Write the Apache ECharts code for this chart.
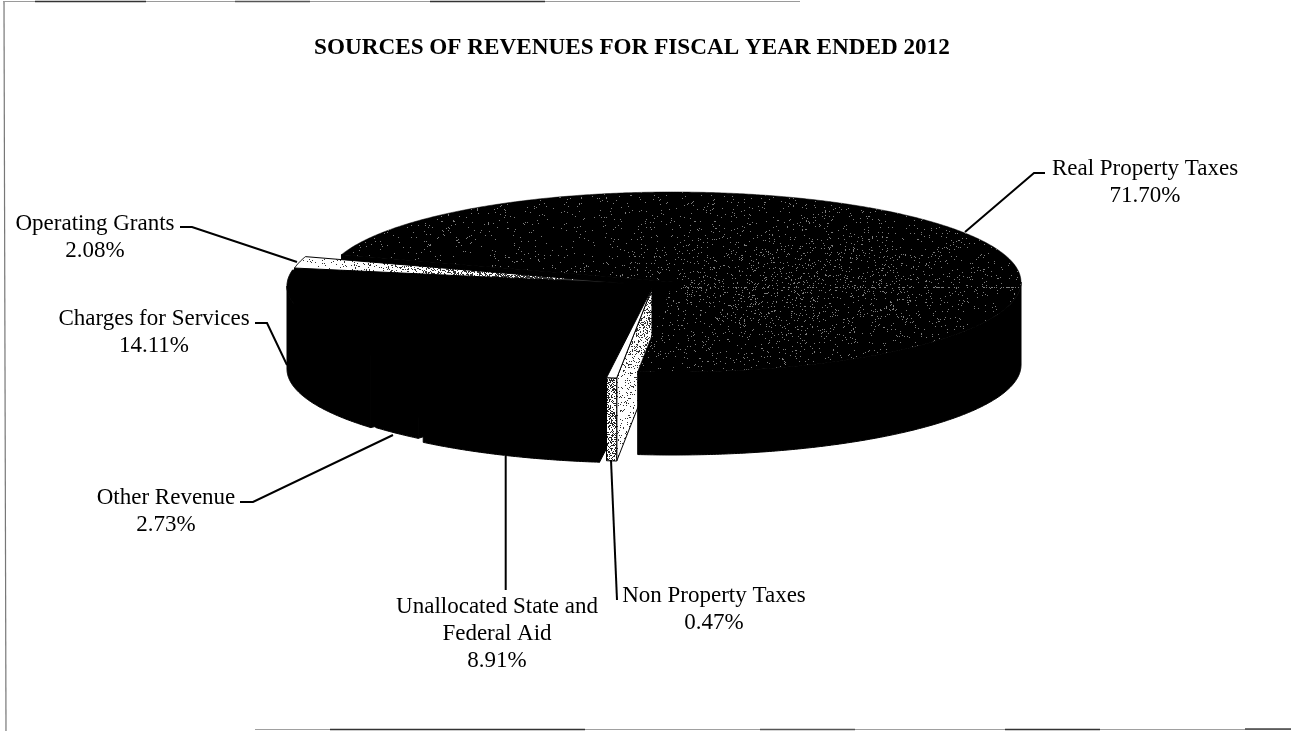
<!DOCTYPE html>
<html>
<head>
<meta charset="utf-8">
<title>Sources of Revenues</title>
<script src="https://cdn.jsdelivr.net/npm/echarts@6/dist/echarts.min.js"></script>
<style>
html,body{margin:0;padding:0;background:#fff}
#chart{width:1291px;height:731px}
</style>
</head>
<body>
<div id="chart"></div>
<script>
// Revenue shares, percent of total, clockwise from the start of Real Property Taxes
const categories = [
  'Real Property Taxes',
  'Non Property Taxes',
  'Unallocated State and\nFederal Aid',
  'Other Revenue',
  'Charges for Services',
  'Operating Grants'
];
const shares = [71.70, 0.47, 8.91, 2.73, 14.11, 2.08];
const chartTitle = 'SOURCES OF REVENUES FOR FISCAL YEAR ENDED 2012';

// Pie projection, in axis units (the hidden axes run 1:1 with the page)
const RX = 348, RY = 90, DEPTH = 83, FIRST_ANGLE = 287.7;
// Apex of each exploded slice
const apexes = [[673, 282], [652, 288.5], [645, 290], [640, 286], [635, 286], [637, 284]];
// Paint layers: radial wall and remaining faces of each slice
const wallLayer = [1, 4, 3, 3, 3, 2];
const faceLayer = [5, 4, 3, 3, 3, 2];
// Leader lines and label anchors
const leaders = [
  [[965, 232], [1034, 173], [1045, 173]],
  [[611, 460], [617, 600]],
  [[505.7, 456], [505.7, 590]],
  [[393, 435], [253, 502], [240, 502]],
  [[287, 365], [267, 323], [255, 323]],
  [[297, 262], [192, 227], [180, 227]]
];
const labelAnchors = [[1145, 155], [714, 582], [497, 593], [166, 484], [154, 305], [95, 210]];

const FONT = '"Liberation Serif", "Times New Roman", serif';

// Speckled fill: a page-sized canvas where inkAt(x, y) gives the chance of a pixel being marked
function speckle(base, mark, inkAt) {
  const c = document.createElement('canvas');
  c.width = 1291; c.height = 731;
  const ctx = c.getContext('2d');
  ctx.fillStyle = base;
  ctx.fillRect(0, 0, c.width, c.height);
  ctx.fillStyle = mark;
  let s = 20120630;
  for (let y = 0; y < c.height; y++) {
    for (let x = 0; x < c.width; x++) {
      s = (Math.imul(s, 1103515245) + 12345) & 0x7fffffff;
      if (((s >> 8) & 0xffff) / 65536 < inkAt(x, y)) ctx.fillRect(x, y, 1, 1);
    }
  }
  return { image: c, repeat: 'no-repeat' };
}

const realTop = speckle('#000', '#7c7c7c', (x, y) => {
  const dx = (x - 800) / 170, dy = (y - 285) / 55;
  const band = Math.abs(y - 287) < 1 && x > 680 ? 0.2 : 0;
  return 0.02 + 0.05 * Math.exp(-dx * dx - dy * dy) + band;
});
const grantTop = speckle('#fff', '#333', (x) => Math.min(1, 0.05 + Math.pow(Math.max(0, x - 300) / 290, 1.8)));
const nonPropWall = speckle('#fff', '#333', (x, y) => 0.1 + 0.35 * Math.max(0, (380 - y) / 85));
const nonPropRim = speckle('#fff', '#222', () => 0.38);

const topFill = [realTop, '#fff', '#000', '#000', '#000', grantTop];

// Cumulative slice angles, clockwise from twelve o'clock
const sliceAngles = [];
shares.reduce((acc, v) => {
  const sweep = v * 3.6;
  sliceAngles.push([acc, acc + sweep]);
  return acc + sweep;
}, FIRST_ANGLE);

function rimPoint(apex, deg, drop) {
  const t = deg * Math.PI / 180;
  return [apex[0] + RX * Math.sin(t), apex[1] - RY * Math.cos(t) + (drop || 0)];
}

function arc(apex, from, to, drop) {
  const pts = [];
  const n = Math.max(2, Math.ceil(Math.abs(to - from) / 0.5));
  for (let i = 0; i <= n; i++) pts.push(rimPoint(apex, from + (to - from) * i / n, drop));
  return pts;
}

// Visible span of the outer wall: the near half of the rim, 90 to 270 degrees (and +360)
function nearSpan(a, b) {
  for (const k of [0, 360]) {
    const lo = Math.max(a, 90 + k), hi = Math.min(b, 270 + k);
    if (hi > lo) return [lo, hi];
  }
  return null;
}

function renderSlice(params, api) {
  const i = api.value(0);
  const [a, b] = sliceAngles[i];
  const apex = apexes[i];
  const toPx = (pts) => pts.map((p) => api.coord(p));
  const poly = (pts, fill, z2, strokeW) => ({
    type: 'polygon',
    z2,
    shape: { points: toPx(pts) },
    style: { fill, stroke: '#000', lineWidth: strokeW === undefined ? 1 : strokeW }
  });
  const children = [];

  // Radial wall on the slice's leading edge
  const edge = rimPoint(apex, a);
  children.push(poly(
    [apex, edge, [edge[0], edge[1] + DEPTH], [apex[0], apex[1] + DEPTH]],
    i === 1 ? nonPropWall : '#000',
    wallLayer[i] * 10
  ));

  // Outer wall
  const span = nearSpan(a, b);
  if (span) {
    const top = arc(apex, span[0], span[1], 0);
    const bottom = arc(apex, span[1], span[0], DEPTH);
    children.push(poly(top.concat(bottom), i === 1 ? nonPropRim : '#000', faceLayer[i] * 10 + 1));
  }

  // Top face
  children.push(poly([apex].concat(arc(apex, a, b, 0)), topFill[i], faceLayer[i] * 10 + 2, i === 0 ? 0.5 : 1));

  // Leader line
  children.push({
    type: 'polyline',
    z2: 100,
    shape: { points: toPx(leaders[i]) },
    style: { fill: null, stroke: '#000', lineWidth: 2 }
  });

  // Category and share
  const anchor = api.coord(labelAnchors[i]);
  children.push({
    type: 'text',
    z2: 101,
    style: {
      text: categories[i] + '\n' + api.value(1).toFixed(2) + '%',
      x: anchor[0],
      y: anchor[1],
      align: 'center',
      verticalAlign: 'top',
      font: '23px ' + FONT,
      lineHeight: 27,
      fill: '#000'
    }
  });

  return { type: 'group', children };
}

const chart = echarts.init(document.getElementById('chart'), null, { renderer: 'canvas' });

const hLine = (x1, x2, y, color, w) => ({
  type: 'line', silent: true,
  shape: { x1, y1: y, x2, y2: y },
  style: { stroke: color, lineWidth: w }
});

chart.setOption({
  animation: false,
  backgroundColor: '#fff',
  title: {
    text: chartTitle,
    left: 314,
    top: 37,
    padding: 0,
    textStyle: { fontFamily: FONT, fontWeight: 'bold', fontSize: 23.2, color: '#000' }
  },
  grid: { left: 0, right: 0, top: 0, bottom: 0 },
  xAxis: { type: 'value', min: 0, max: 1291, show: false },
  yAxis: { type: 'value', min: 0, max: 731, inverse: true, show: false },
  series: [{
    type: 'custom',
    coordinateSystem: 'cartesian2d',
    clip: false,
    silent: true,
    renderItem: renderSlice,
    encode: { x: 0, y: 1 },
    data: shares.map((v, i) => [i, v])
  }],
  // Page frame as scanned: faint and broken in places
  graphic: {
    elements: [
      hLine(3, 800, 1.5, '#9a9a9a', 1.2),
      hLine(35, 146, 1.5, '#333', 1.6),
      hLine(235, 310, 1.5, '#555', 1.6),
      hLine(430, 545, 1.5, '#333', 1.6),
      hLine(255, 1291, 729.5, '#a0a0a0', 1.2),
      hLine(330, 585, 729.5, '#333', 1.6),
      hLine(760, 855, 729.5, '#555', 1.6),
      hLine(1005, 1100, 729.5, '#333', 1.6),
      hLine(1245, 1291, 729, '#444', 1.6),
      { type: 'line', silent: true, shape: { x1: 4, y1: 2, x2: 6, y2: 731 }, style: { stroke: '#777', lineWidth: 1.2 } }
    ]
  }
});
</script>
</body>
</html>
